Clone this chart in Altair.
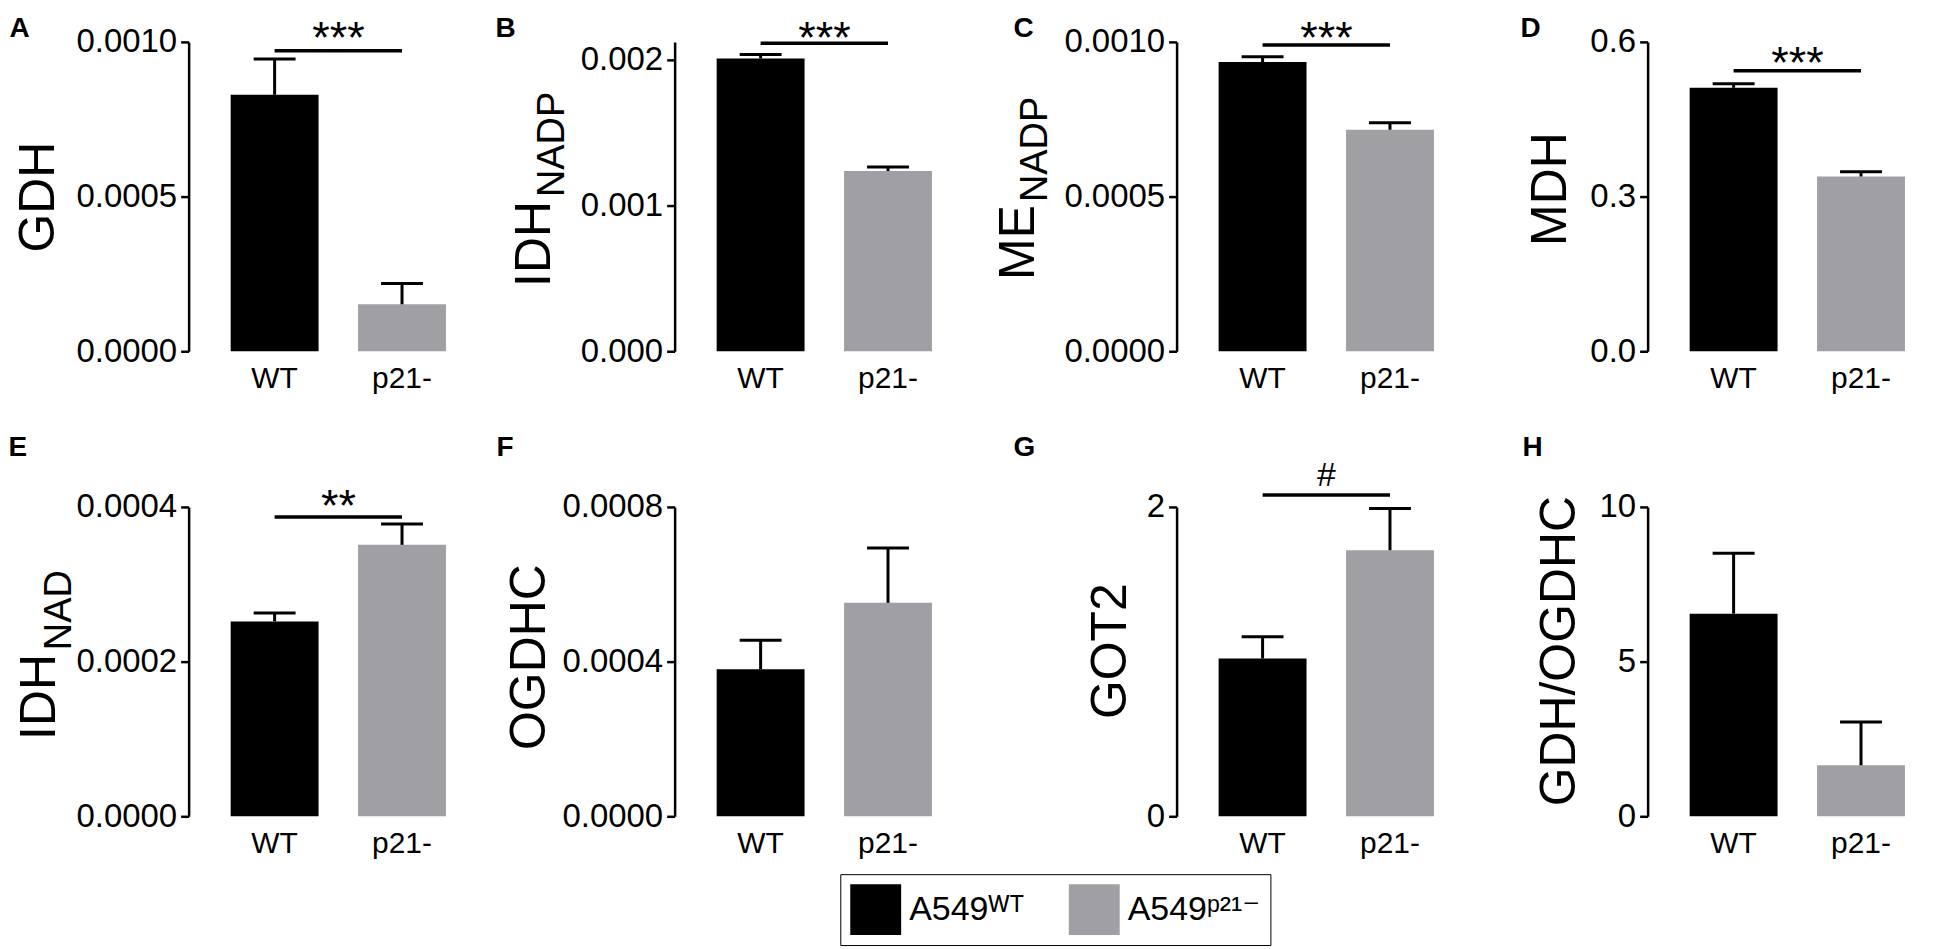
import altair as alt
import pandas as pd

# ---------------- data ----------------
panels = ["A", "B", "C", "D", "E", "F", "G", "H"]
groups = ["WT", "p21-"]
legend_labels = ["A549ᵂᵀ", "A549ᵖ²¹⁻"]
bar_colors = ["#000000", "#A0A0A4"]

wt_mean = [0.000829, 0.002007, 0.000935, 0.511, 0.000252, 0.000380, 1.02, 6.55]
wt_sem = [0.000116, 0.000027, 0.000017, 0.008, 0.000011, 0.000075, 0.14, 1.95]
p21_mean = [0.000152, 0.001235, 0.000716, 0.339, 0.000351, 0.000552, 1.72, 1.65]
p21_sem = [0.000067, 0.000028, 0.000023, 0.009, 0.000027, 0.000142, 0.27, 1.40]

y_max = [0.0010, 0.00212, 0.0010, 0.6, 0.0004, 0.0008, 2, 10]
y_ticks = [
    [0, 0.0005, 0.0010],
    [0, 0.001, 0.002],
    [0, 0.0005, 0.0010],
    [0, 0.3, 0.6],
    [0, 0.0002, 0.0004],
    [0, 0.0004, 0.0008],
    [0, 1, 2],
    [0, 5, 10],
]
tick_format = [".4f", ".3f", ".4f", ".1f", ".4f", ".4f", "d", "d"]
y_title = ["GDH", "IDH", "ME", "MDH", "IDH", "OGDHC", "GOT2", "GDH/OGDHC"]
y_subscript = ["", "NADP", "NADP", "", "NAD", "", "", ""]

sig_label = ["***", "***", "***", "***", "**", "", "#", ""]
sig_line = [0.000971, 0.00211, 0.00099, 0.544, 0.000387, None, 2.077, None]
sig_text = [0.000965, 0.002045, 0.000965, 0.530, 0.000382, None, 2.135, None]

# ---------------- layout / style (not data) ----------------
FONT = "Liberation Sans"
col_width = [317, 333, 302, 286]
PLOT_H = 310
# (titleX, titleY, align) of the axis title; subscript (titleX, titleY)
title_pos = [
    (-135, 155, "center"), (-125, 245, "left"), (-143, 238, "left"), (-82, 147, "center"),
    (-134, 233, "left"), (-130, 150, "center"), (-51, 144, "center"), (-73, 144, "center"),
]
sub_pos = [None, (-111, 155), (-130, 160), None, (-118, 143), None, None, None]
# panel letter position relative to plot top-left
letter_pos = [(-180, -5), (-180, -5), (-164, -5), (-128, -5),
              (-181, -52), (-179, -52), (-164, -52), (-126, -52)]
text_size = [45, 45, 45, 45, 45, 45, 34, 45]

xscale = alt.Scale(domain=groups, range=[0, 300], paddingInner=0.31, paddingOuter=0.33)
xaxis = alt.Axis(title=None, domain=False, ticks=False, labelAngle=0, labelFont=FONT,
                 labelFontSize=30, labelColor="black", labelPadding=12, orient="bottom")

color_scale = alt.Scale(domain=groups, range=bar_colors)
label_expr = "datum.value == '%s' ? '%s' : '%s'" % (groups[0], legend_labels[0], legend_labels[1])
legend = alt.Legend(
    orient="none", legendX=653, legendY=834, direction="horizontal", columns=2,
    title=None, symbolType="square", symbolSize=2601, symbolStrokeWidth=0,
    labelFont=FONT + ", DejaVu Sans", labelFontSize=34, labelColor="black",
    labelOffset=8, columnPadding=44, padding=10, strokeColor="black",
    labelExpr=label_expr, labelLimit=400,
)


def make_panel(i):
    df = pd.DataFrame({
        "group": groups,
        "mean": [wt_mean[i], p21_mean[i]],
        "sem": [wt_sem[i], p21_sem[i]],
    })
    df["top"] = df["mean"] + df["sem"]

    lx, ly = letter_pos[i]
    letter_axis = alt.Axis(
        orient="top", domain=False, ticks=False, labels=False, grid=False,
        title=panels[i], titleX=lx, titleY=ly, titleAlign="left", titleBaseline="alphabetic",
        titleAngle=0, titleFont=FONT, titleFontSize=28, titleFontWeight="bold",
        titleColor="black",
    )
    x_bottom = alt.X("group:N", scale=xscale, sort=groups, axis=xaxis)
    x_top = alt.X("group:N", scale=xscale, sort=groups, axis=letter_axis)
    x_none = alt.X("group:N", scale=xscale, sort=groups, axis=None)

    ys = alt.Scale(domain=[0, y_max[i]], nice=False, zero=True)
    tx, ty, ta = title_pos[i]
    main_axis = alt.Axis(
        values=y_ticks[i], format=tick_format[i], grid=False,
        domainColor="black", domainWidth=2.5, tickColor="black", tickWidth=2.5, tickSize=8,
        labelFont=FONT, labelFontSize=33, labelColor="black", labelPadding=4,
        title=y_title[i], titleFont=FONT, titleFontSize=50, titleFontWeight="normal",
        titleColor="black", titleAngle=270, titleX=tx, titleY=ty, titleAlign=ta,
        titleBaseline="alphabetic", orient="left",
    )
    bars = alt.Chart(df).mark_bar().encode(
        x=x_bottom,
        y=alt.Y("mean:Q", scale=ys, axis=main_axis),
        color=alt.Color("group:N", scale=color_scale, legend=legend),
    )
    if sub_pos[i] is not None:
        sx, sy = sub_pos[i]
        sub_axis = alt.Axis(
            orient="left", domain=False, ticks=False, labels=False, grid=False,
            title=y_subscript[i], titleFont=FONT, titleFontSize=38, titleFontWeight="normal",
            titleColor="black", titleAngle=270, titleX=sx, titleY=sy, titleAlign="left",
            titleBaseline="alphabetic",
        )
    else:
        sub_axis = None
    err = alt.Chart(df).mark_rule(color="black", strokeWidth=3).encode(
        x=x_top, y=alt.Y("mean:Q", scale=ys, axis=sub_axis), y2="top:Q"
    )
    cap = alt.Chart(df).mark_tick(color="black", size=42, thickness=3, opacity=1).encode(
        x=x_none, y=alt.Y("top:Q", scale=ys, axis=None)
    )
    layers = [bars, err, cap]
    if sig_label[i]:
        line_df = pd.DataFrame({"group": groups, "y": [sig_line[i], sig_line[i]]})
        text_df = pd.DataFrame({"group": [groups[0]], "y": [sig_text[i]], "label": [sig_label[i]]})
        line = alt.Chart(line_df).mark_line(color="black", strokeWidth=3.5, strokeCap="butt").encode(
            x=x_none, y=alt.Y("y:Q", scale=ys, axis=None)
        )
        txt = alt.Chart(text_df).mark_text(
            font=FONT, fontSize=text_size[i], align="center", baseline="alphabetic",
            dx=64, color="black",
        ).encode(x=x_none, y=alt.Y("y:Q", scale=ys, axis=None), text="label:N")
        layers += [line, txt]

    return alt.layer(*layers).resolve_axis(y="independent", x="independent").properties(
        width=col_width[i % 4], height=PLOT_H,
    )


chart = alt.concat(
    *[make_panel(i) for i in range(8)],
    columns=4, spacing={"row": 156, "column": 170}, bounds="flush", align="each",
).properties(
    padding={"left": 0, "top": 6, "right": 0, "bottom": 0}, background="white"
).configure(font=FONT).configure_view(stroke=None)

chart.save("out.html", embed_options={"renderer": "svg", "actions": False})
